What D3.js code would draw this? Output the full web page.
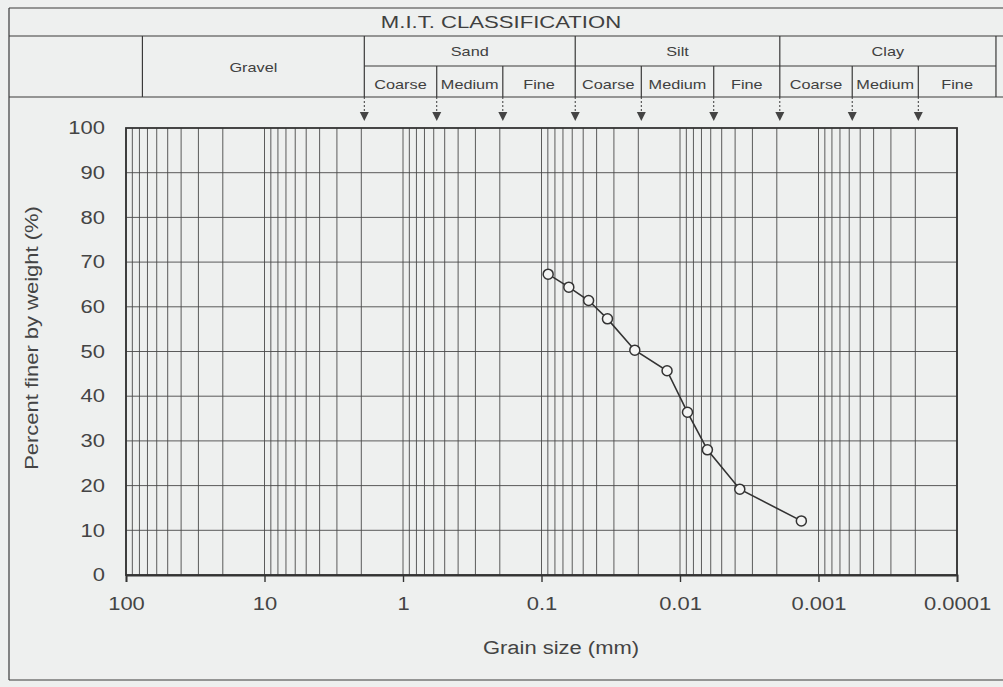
<!DOCTYPE html>
<html>
<head>
<meta charset="utf-8">
<script src="https://cdn.jsdelivr.net/npm/d3@7"></script>
<style>
  body { margin: 0; background: #eef0ef; }
  svg { display: block; font-family: "Liberation Sans", Arial, sans-serif; }
</style>
</head>
<body>
<svg width="1003" height="687"></svg>
<script>
// grain size distribution, M.I.T. classification

const grainSize = [0.0895, 0.0635, 0.0457, 0.0334, 0.0212, 0.0124, 0.00883, 0.00634, 0.0037, 0.00133];
const percentFiner = [67.3, 64.4, 61.4, 57.3, 50.3, 45.7, 36.4, 28.0, 19.2, 12.1];

const xTickValues = [100, 10, 1, 0.1, 0.01, 0.001, 0.0001];
const xTickLabels = ["100", "10", "1", "0.1", "0.01", "0.001", "0.0001"];
const yTickValues = [0, 10, 20, 30, 40, 50, 60, 70, 80, 90, 100];

// classification boundaries (mm)
const boundaries = [2, 0.6, 0.2, 0.06, 0.02, 0.006, 0.002, 0.0006, 0.0002];
const soilTypes = ["Sand", "Silt", "Clay"];
const subTypes = ["Coarse", "Medium", "Fine"];
const gravelMax = 80;
const clayMin = 0.000055;

const svg = d3.select("svg");
const ink = "#3a3a3a";

const x = d3.scaleLog().domain([100, 0.0001]).range([126, 957]);
const y = d3.scaleLinear().domain([0, 100]).range([575, 128]);

// the scanned table is drawn a few px right of the plot scale
const hx = v => x(v) + 3;

// the original lettering is wider than Arial
function stretch(sel, f) {
  sel.each(function () {
    const len = this.getComputedTextLength();
    d3.select(this).attr("textLength", len * f).attr("lengthAdjust", "spacingAndGlyphs");
  });
}

// ---- header table ----
const head = svg.append("g").attr("stroke", ink).attr("stroke-width", 1.2).attr("fill", "none");
const tLeft = 9, tRight = 1010;
const rows = [8, 36, 66, 97];

[rows[0], rows[1], rows[3]].forEach(r => {
  head.append("line").attr("x1", tLeft).attr("x2", tRight).attr("y1", r).attr("y2", r);
});
head.append("line").attr("x1", hx(2)).attr("x2", hx(clayMin)).attr("y1", rows[2]).attr("y2", rows[2]);

// outer left border, bottom border
head.append("line").attr("x1", tLeft).attr("x2", tLeft).attr("y1", rows[0]).attr("y2", 680);
head.append("line").attr("x1", tLeft).attr("x2", tRight).attr("y1", 680).attr("y2", 680);

const mainCols = [gravelMax, 2, 0.06, 0.002, clayMin];
mainCols.forEach(v => {
  head.append("line").attr("x1", hx(v)).attr("x2", hx(v)).attr("y1", rows[1]).attr("y2", rows[3]);
});
[0.6, 0.2, 0.02, 0.006, 0.0006, 0.0002].forEach(v => {
  head.append("line").attr("x1", hx(v)).attr("x2", hx(v)).attr("y1", rows[2]).attr("y2", rows[3]);
});

const headText = svg.append("g").attr("fill", "#404040").attr("text-anchor", "middle");
const title = headText.append("text").attr("x", 501).attr("y", 28).attr("font-size", 17).text("M.I.T.  CLASSIFICATION");
stretch(title, 1.3);
headText.append("text").attr("x", (hx(gravelMax) + hx(2)) / 2).attr("y", 72).attr("font-size", 13).text("Gravel");

const groupEdges = [2, 0.06, 0.002, clayMin];
soilTypes.forEach((s, i) => {
  const a = groupEdges[i], b = groupEdges[i + 1];
  headText.append("text").attr("x", (hx(a) + hx(b)) / 2).attr("y", 56).attr("font-size", 13).text(s);
});
const subEdges = [2, 0.6, 0.2, 0.06, 0.02, 0.006, 0.002, 0.0006, 0.0002, clayMin];
for (let i = 0; i < 9; i++) {
  headText.append("text")
    .attr("x", (hx(subEdges[i]) + hx(subEdges[i + 1])) / 2)
    .attr("y", 89)
    .attr("font-size", 13)
    .text(subTypes[i % 3]);
}
stretch(headText.selectAll("text").filter((d, i) => i > 0), 1.25);

// boundary arrows
const arrows = svg.append("g").selectAll("g").data(boundaries).enter().append("g")
  .attr("transform", d => "translate(" + hx(d) + ",0)");
arrows.append("line").attr("y1", rows[3]).attr("y2", 113)
  .attr("stroke", ink).attr("stroke-width", 1).attr("stroke-dasharray", "2,2");
arrows.append("path").attr("d", "M-4.5,112 L4.5,112 L0,121 Z").attr("fill", "#444");

// ---- grid ----
const grid = svg.append("g").attr("stroke", "#4a4a4a").attr("stroke-width", 0.9);
grid.selectAll(".vg").data(x.ticks()).enter().append("line")
  .attr("x1", d => x(d)).attr("x2", d => x(d)).attr("y1", y(100)).attr("y2", y(0));
grid.selectAll(".hg").data(yTickValues.slice(1, -1)).enter().append("line")
  .attr("x1", x(100)).attr("x2", x(0.0001)).attr("y1", d => y(d)).attr("y2", d => y(d));

// frame
svg.append("rect")
  .attr("x", x(100)).attr("y", y(100))
  .attr("width", x(0.0001) - x(100)).attr("height", y(0) - y(100))
  .attr("fill", "none").attr("stroke", "#333").attr("stroke-width", 1.8);

// ---- axes ----
const xAxis = svg.append("g")
  .attr("transform", "translate(0," + y(0) + ")")
  .call(d3.axisBottom(x).tickValues(xTickValues).tickFormat((d, i) => xTickLabels[i]).tickSize(7).tickPadding(15));
xAxis.select(".domain").attr("stroke", "#333").attr("stroke-width", 1.8);
xAxis.selectAll(".tick line").attr("stroke", "#333").attr("stroke-width", 1.4);
xAxis.selectAll("text").attr("font-size", 18).attr("fill", "#444").attr("font-family", "Liberation Sans, Arial, sans-serif");
stretch(xAxis.selectAll("text"), 1.22);

const yAxis = svg.append("g")
  .attr("transform", "translate(" + x(100) + ",0)")
  .call(d3.axisLeft(y).tickValues(yTickValues).tickSize(0).tickPadding(21));
yAxis.select(".domain").remove();
yAxis.selectAll("text").attr("font-size", 18).attr("fill", "#444").attr("font-family", "Liberation Sans, Arial, sans-serif");
stretch(yAxis.selectAll("text"), 1.22);

const yLabel = svg.append("text")
  .attr("transform", "translate(38,338) rotate(-90)")
  .attr("text-anchor", "middle").attr("font-size", 18).attr("fill", "#444")
  .text("Percent finer by weight (%)");
stretch(yLabel, 1.22);

const xLabel = svg.append("text")
  .attr("x", 561).attr("y", 654)
  .attr("text-anchor", "middle").attr("font-size", 18).attr("fill", "#444")
  .text("Grain size (mm)");
stretch(xLabel, 1.22);

// ---- data curve ----
const pts = grainSize.map((g, i) => ({ g: g, p: percentFiner[i] }));
svg.append("path")
  .datum(pts)
  .attr("fill", "none").attr("stroke", "#333").attr("stroke-width", 1.6)
  .attr("d", d3.line().x(d => x(d.g)).y(d => y(d.p)));

svg.selectAll(".pt").data(pts).enter().append("circle")
  .attr("cx", d => x(d.g)).attr("cy", d => y(d.p)).attr("r", 5)
  .attr("fill", "#f4f5f4").attr("stroke", "#333").attr("stroke-width", 1.5);
</script>
</body>
</html>
